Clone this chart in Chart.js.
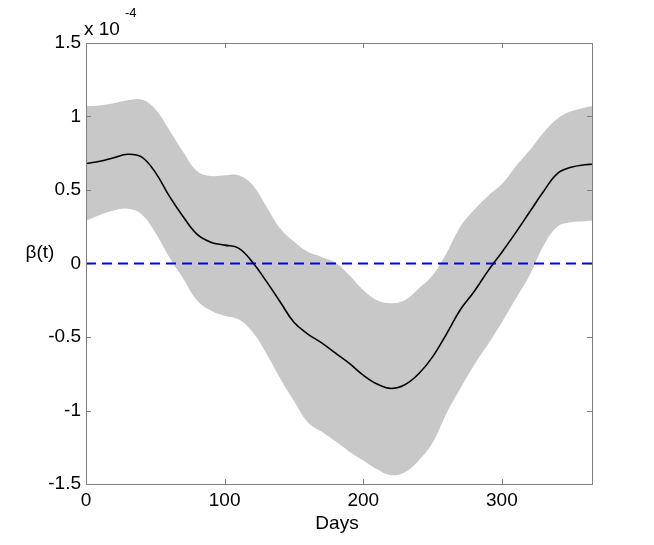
<!DOCTYPE html>
<html lang="en">
<head>
  <meta charset="UTF-8" />
  <title>beta(t) over days</title>
  <style>
    body {
      margin: 0;
      background-color: #ffffff;
    }
    .grafica {
      width: 654px;
      height: 545px;
    }
  </style>
</head>
<body>
  <div class="grafica">
    <canvas id="betaChart"></canvas>
  </div>
  <script src="https://cdn.jsdelivr.net/npm/chart.js"></script>
  <script>
    // values are in units of 1e-4 (see the "x 10^-4" note at the top)
    const days = [0, 10, 20, 30, 40, 50, 60, 70, 80, 90, 100, 110, 120, 130, 140, 150, 160, 170, 180,
                  190, 200, 210, 220, 230, 240, 250, 260, 270, 280, 290, 300, 310, 320, 330, 340, 350, 360, 365];
    const betaMean = [0.68, 0.695, 0.72, 0.743, 0.725, 0.62, 0.46, 0.32, 0.20, 0.145, 0.125, 0.105, 0.01,
                      -0.12, -0.26, -0.40, -0.48, -0.54, -0.61, -0.68, -0.76, -0.82, -0.85, -0.825, -0.75,
                      -0.635, -0.48, -0.315, -0.19, -0.05, 0.077, 0.21, 0.35, 0.49, 0.612, 0.655, 0.672, 0.675];
    const betaUpper = [1.07, 1.075, 1.09, 1.11, 1.115, 1.05, 0.91, 0.76, 0.63, 0.595, 0.60, 0.60, 0.535,
                       0.39, 0.24, 0.15, 0.08, 0.045, 0.005, -0.08, -0.18, -0.25, -0.27, -0.25, -0.17,
                       -0.08, 0.07, 0.25, 0.365, 0.46, 0.54, 0.66, 0.77, 0.89, 0.985, 1.035, 1.062, 1.07];
    const betaLower = [0.29, 0.33, 0.36, 0.372, 0.335, 0.21, 0.045, -0.10, -0.25, -0.32, -0.355, -0.38, -0.465,
                       -0.61, -0.78, -0.935, -1.08, -1.145, -1.21, -1.28, -1.34, -1.40, -1.44, -1.42, -1.34,
                       -1.22, -1.02, -0.85, -0.69, -0.55, -0.40, -0.24, -0.08, 0.12, 0.25, 0.28, 0.288, 0.29];
    const zeroDays = [0, 365];
    const zeroLevel = [0, 0];
    const xTicks = [0, 100, 200, 300];
    const yTicks = [-1.5, -1, -0.5, 0, 0.5, 1, 1.5];

    const puntos = (xs, ys) => xs.map((x, i) => ({ x: x, y: ys[i] }));
    const fuente = 'Liberation Sans, Arial, sans-serif';

    // frame, inward tick marks and the extra labels, like the MATLAB axes box
    const marcoPlugin = {
      id: 'marco',
      afterDatasetsDraw(chart) {
        const ctx = chart.ctx;
        const a = chart.chartArea;
        const sx = chart.scales.x;
        const sy = chart.scales.y;
        ctx.save();
        ctx.strokeStyle = '#7f7f7f';
        ctx.lineWidth = 1;
        ctx.strokeRect(Math.round(a.left) + 0.5, Math.round(a.top) + 0.5,
                       Math.round(a.right - a.left), Math.round(a.bottom - a.top));
        ctx.beginPath();
        xTicks.forEach(t => {
          const px = Math.round(sx.getPixelForValue(t)) + 0.5;
          ctx.moveTo(px, a.bottom); ctx.lineTo(px, a.bottom - 5);
          ctx.moveTo(px, a.top); ctx.lineTo(px, a.top + 5);
        });
        yTicks.forEach(t => {
          const py = Math.round(sy.getPixelForValue(t)) + 0.5;
          ctx.moveTo(a.left, py); ctx.lineTo(a.left + 5, py);
          ctx.moveTo(a.right, py); ctx.lineTo(a.right - 5, py);
        });
        ctx.stroke();

        ctx.fillStyle = '#000000';
        ctx.textBaseline = 'alphabetic';
        ctx.textAlign = 'left';
        ctx.font = '19px ' + fuente;
        ctx.fillText('x 10', 84, 35);
        ctx.font = '13px ' + fuente;
        ctx.fillText('-4', 125, 17);
        ctx.font = '19px ' + fuente;
        ctx.textAlign = 'center';
        ctx.fillText('Days', (a.left + a.right) / 2 - 2, 529);
        ctx.textBaseline = 'middle';
        ctx.fillText('\u03b2(t)', 40, 253);
        ctx.restore();
      }
    };

    const betaChart = new Chart(document.getElementById('betaChart').getContext('2d'), {
      type: 'line',
      data: {
        datasets: [
          {
            label: 'beta(t)',
            data: puntos(days, betaMean),
            borderColor: '#000000',
            borderWidth: 1.6,
            pointRadius: 0,
            fill: false,
            tension: 0.4
          },
          {
            label: 'cero',
            data: puntos(zeroDays, zeroLevel),
            borderColor: '#0000ff',
            borderWidth: 2,
            borderDash: [10, 6],
            pointRadius: 0,
            fill: false
          },
          {
            label: 'superior',
            data: puntos(days, betaUpper),
            borderWidth: 0,
            borderColor: 'rgba(0,0,0,0)',
            backgroundColor: '#c8c8c8',
            pointRadius: 0,
            fill: '+1',
            tension: 0.4
          },
          {
            label: 'inferior',
            data: puntos(days, betaLower),
            borderWidth: 0,
            borderColor: 'rgba(0,0,0,0)',
            pointRadius: 0,
            fill: false,
            tension: 0.4
          }
        ]
      },
      options: {
        responsive: true,
        maintainAspectRatio: false,
        animation: false,
        layout: {
          padding: { left: 0, right: 62, top: 43, bottom: 0 }
        },
        scales: {
          x: {
            type: 'linear',
            min: 0,
            max: 365,
            afterBuildTicks: s => { s.ticks = xTicks.map(v => ({ value: v })); },
            afterFit: s => { s.height = 61; },
            ticks: {
              color: '#000000',
              font: { family: fuente, size: 19 },
              padding: 5,
              maxRotation: 0
            },
            grid: { display: false, drawTicks: false },
            border: { display: false }
          },
          y: {
            min: -1.5,
            max: 1.5,
            afterBuildTicks: s => { s.ticks = yTicks.map(v => ({ value: v })); },
            afterFit: s => { s.width = 86; },
            ticks: {
              color: '#000000',
              font: { family: fuente, size: 19 },
              padding: 5,
              callback: v => String(v)
            },
            grid: { display: false, drawTicks: false },
            border: { display: false }
          }
        },
        plugins: {
          legend: { display: false },
          tooltip: { enabled: false }
        }
      },
      plugins: [marcoPlugin]
    });
  </script>
</body>
</html>
